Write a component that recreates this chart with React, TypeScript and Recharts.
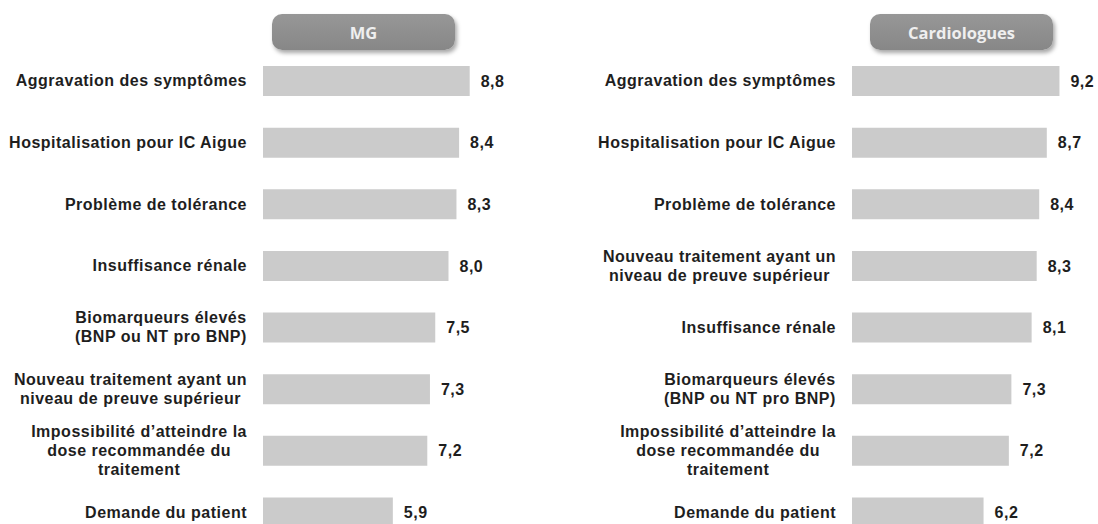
import { BarChart, Bar, XAxis, YAxis, LabelList } from "recharts";

const mgCategories = [
  "Aggravation des symptômes",
  "Hospitalisation pour IC Aigue",
  "Problème de tolérance",
  "Insuffisance rénale",
  "Biomarqueurs élevés\n(BNP ou NT pro BNP)",
  "Nouveau traitement ayant un\nniveau de preuve supérieur",
  "Impossibilité d’atteindre la\ndose recommandée du\ntraitement",
  "Demande du patient",
];
const mgValues = [8.8, 8.4, 8.3, 8.0, 7.5, 7.3, 7.2, 5.9];

const cardioCategories = [
  "Aggravation des symptômes",
  "Hospitalisation pour IC Aigue",
  "Problème de tolérance",
  "Nouveau traitement ayant un\nniveau de preuve supérieur",
  "Insuffisance rénale",
  "Biomarqueurs élevés\n(BNP ou NT pro BNP)",
  "Impossibilité d’atteindre la\ndose recommandée du\ntraitement",
  "Demande du patient",
];
const cardioValues = [9.2, 8.7, 8.4, 8.3, 8.1, 7.3, 7.2, 6.2];

const FONT = "'Liberation Sans', Arial, sans-serif";
const FONT_SIZE = 16;
const LETTER_SPACING = 0.5;
const BAR_COLOR = "#cbcbcb";
const TEXT_COLOR = "#1e1e1e";

const formatValue = (v: any) => Number(v).toFixed(1).replace(".", ",");

let measureCtx: CanvasRenderingContext2D | null = null;
function textWidth(s: string) {
  if (!measureCtx) {
    measureCtx = document.createElement("canvas").getContext("2d");
  }
  if (!measureCtx) return s.length * 9;
  measureCtx.font = `bold ${FONT_SIZE}px ${FONT}`;
  return measureCtx.measureText(s).width + s.length * LETTER_SPACING;
}

// labels: block right-aligned to the axis, each line centred inside the block
const MultiLineTick = (props: any) => {
  const { x, y, payload } = props;
  const lines = String(payload.value).split("\n");
  const lh = 19;
  const blockW = Math.max(...lines.map(textWidth));
  const cx = x - blockW / 2;
  return (
    <g>
      {lines.map((line: string, i: number) => (
        <text
          key={i}
          x={lines.length > 1 ? cx : x}
          y={y + (i - (lines.length - 1) / 2) * lh}
          textAnchor={lines.length > 1 ? "middle" : "end"}
          dominantBaseline="central"
          fontFamily={FONT}
          fontWeight="bold"
          fontSize={FONT_SIZE}
          letterSpacing={LETTER_SPACING}
          fill={TEXT_COLOR}
        >
          {line}
        </text>
      ))}
    </g>
  );
};

const Pill = ({ text, left }: { text: string; left: number }) => (
  <div
    style={{
      position: "absolute",
      left,
      top: 14,
      width: 183,
      height: 36,
      borderRadius: 10,
      background: "linear-gradient(#979797, #878787)",
      boxShadow: "2px 3px 4px rgba(0,0,0,0.35)",
      color: "#efefef",
      fontFamily: "'Open Sans', sans-serif",
      fontWeight: 700,
      fontSize: 16.5,
      display: "flex",
      alignItems: "center",
      justifyContent: "center",
    }}
  >
    {text}
  </div>
);

interface PanelProps {
  categories: string[];
  values: number[];
  width: number;
  axisWidth: number;
  rightMargin: number;
}

const Panel = ({ categories, values, width, axisWidth, rightMargin }: PanelProps) => {
  const data = categories.map((name, i) => ({ name, value: values[i] }));
  return (
    <BarChart
      width={width}
      height={552}
      data={data}
      layout="vertical"
      margin={{ top: 50, right: rightMargin, bottom: 9, left: 0 }}
    >
      <XAxis type="number" domain={[1, 10]} allowDataOverflow hide />
      <YAxis
        type="category"
        dataKey="name"
        width={axisWidth}
        tickLine={false}
        axisLine={false}
        tickSize={0}
        tickMargin={16}
        interval={0}
        tick={<MultiLineTick />}
      />
      <Bar dataKey="value" fill={BAR_COLOR} barSize={30} isAnimationActive={false}>
        <LabelList
          dataKey="value"
          position="right"
          offset={11}
          formatter={formatValue}
          fill={TEXT_COLOR}
          fontFamily={FONT}
          fontWeight="bold"
          fontSize={FONT_SIZE}
          letterSpacing={LETTER_SPACING}
        />
      </Bar>
    </BarChart>
  );
};

export default function App() {
  return (
    <div
      style={{
        position: "absolute",
        left: 0,
        top: 0,
        width: 1098,
        height: 524,
        overflow: "hidden",
        background: "#fff",
      }}
    >
      <div style={{ position: "absolute", left: 0, top: 0 }}>
        <Panel
          categories={mgCategories}
          values={mgValues}
          width={560}
          axisWidth={263}
          rightMargin={58.5}
        />
      </div>
      <div style={{ position: "absolute", left: 560, top: 0 }}>
        <Panel
          categories={cardioCategories}
          values={cardioValues}
          width={538}
          axisWidth={292}
          rightMargin={18.3}
        />
      </div>
      <Pill text="MG" left={272} />
      <Pill text="Cardiologues" left={870} />
    </div>
  );
}
